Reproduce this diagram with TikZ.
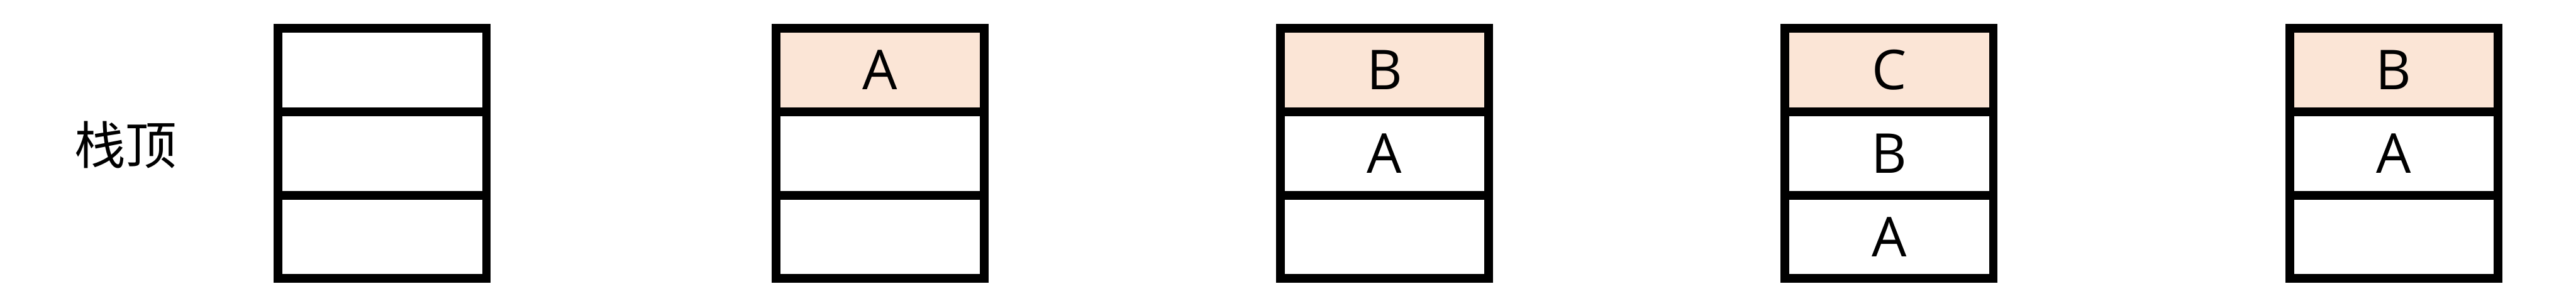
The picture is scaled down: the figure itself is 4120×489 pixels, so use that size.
\documentclass[tikz,border=0pt]{standalone}
\usepackage{fontspec}
\setmainfont{Open Sans}
\newfontfamily\cjk{Noto Sans CJK SC}
\definecolor{topfill}{HTML}{FBE5D6}
\begin{document}
\begin{tikzpicture}[x=1pt,y=-1pt,
  cell/.style={draw=black, line width=14pt, rectangle, minimum width=333pt, minimum height=133.67pt, inner sep=0pt, fill=white,
    font=\fontsize{88}{88}\selectfont},
  topcell/.style={cell, fill=topfill},
  lbl/.style={font=\cjk\fontsize{82}{82}\selectfont, inner sep=0pt}]
\useasboundingbox (0,0) rectangle (4120,489);
\node[lbl] (label) at (201,232) {栈顶};
% stack 1
\node[cell] (s1a) at (611.5,111.8) {};
\node[cell] (s1c) at (611.5,379.2) {};
\node[cell] (s1b) at (611.5,245.5) {};
% stack 2
\node[cell] (s2c) at (1407.5,379.2) {};
\node[cell] (s2b) at (1407.5,245.5) {};
\node[topcell] (s2a) at (1407.5,111.8) {A};
% stack 3
\node[cell] (s3c) at (2214.5,379.2) {};
\node[cell] (s3b) at (2214.5,245.5) {A};
\node[topcell] (s3a) at (2214.5,111.8) {B};
% stack 4
\node[cell] (s4c) at (3021.5,379.2) {A};
\node[cell] (s4b) at (3021.5,245.5) {B};
\node[topcell] (s4a) at (3021.5,111.8) {C};
% stack 5
\node[cell] (s5c) at (3828.5,379.2) {};
\node[cell] (s5b) at (3828.5,245.5) {A};
\node[topcell] (s5a) at (3828.5,111.8) {B};
\end{tikzpicture}
\end{document}
